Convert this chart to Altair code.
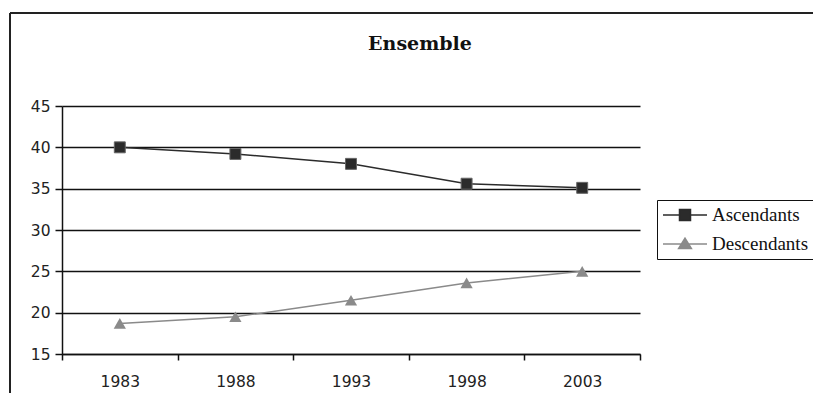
import altair as alt
import pandas as pd

years = ["1983", "1988", "1993", "1998", "2003"]
ascendants = [40.0, 39.2, 38.0, 35.6, 35.1]
descendants = [18.7, 19.5, 21.5, 23.6, 25.0]
series_names = ["Ascendants", "Descendants"]
y_ticks = [15, 20, 25, 30, 35, 40, 45]
title_text = "Ensemble"

rows = []
for y, a, d in zip(years, ascendants, descendants):
    rows.append({"year": y, "value": a, "series": series_names[0]})
    rows.append({"year": y, "value": d, "series": series_names[1]})
df = pd.DataFrame(rows)

W, H = 578, 248
C_ASC = "#2b2b2b"
C_DESC = "#8a8a8a"

x_enc = alt.X(
    "year:O",
    bandPosition=0.5,
    scale=alt.Scale(type="band", paddingInner=0, paddingOuter=0, domain=years),
    axis=alt.Axis(
        title=None, labelAngle=0, tickBand="extent", tickSize=6, grid=False,
        labelPadding=14,
    ),
)
y_enc = alt.Y(
    "value:Q",
    scale=alt.Scale(domain=[15, 45], nice=False, zero=False),
    axis=alt.Axis(
        title=None, values=y_ticks, grid=True, gridColor="#111111", gridWidth=1.5,
        tickSize=7, labelPadding=5,
    ),
)

base = alt.Chart(df)

asc_line = base.transform_filter(alt.datum.series == series_names[0]).mark_line(
    color=C_ASC, strokeWidth=1.5
).encode(x=x_enc, y=y_enc)
asc_pts = base.transform_filter(alt.datum.series == series_names[0]).mark_point(
    shape="square", filled=True, size=120, fill=C_ASC, stroke="#666666",
    strokeWidth=1, opacity=1
).encode(x=x_enc, y=y_enc)
desc_line = base.transform_filter(alt.datum.series == series_names[1]).mark_line(
    color=C_DESC, strokeWidth=1.5
).encode(x=x_enc, y=y_enc)
desc_pts = base.transform_filter(alt.datum.series == series_names[1]).mark_point(
    shape="triangle-up", filled=True, size=150, fill=C_DESC, opacity=1
).encode(x=x_enc, y=y_enc)

path_sq = "M-1,0H-0.25M0.25,0H1M-0.25,-0.25H0.25V0.25H-0.25Z"
path_tri = "M-1,0H1M-0.29,0.2L0.29,0.2L0,-0.26Z"

legend = alt.Legend(
    title=None, orient="none", legendX=595, legendY=94,
    strokeColor="#111111", fillColor="white", padding=5,
    labelFont="Liberation Serif", labelFontSize=19, labelColor="#111111",
    labelOffset=4, symbolSize=1936, symbolStrokeWidth=1.5, clipHeight=20,
    rowPadding=9,
)
legend_layer = base.transform_filter("false").mark_point(
    filled=True, size=1936, opacity=1
).encode(
    x=x_enc, y=y_enc,
    fill=alt.Fill("series:N", scale=alt.Scale(domain=series_names, range=[C_ASC, C_DESC]), legend=legend),
    stroke=alt.Stroke("series:N", scale=alt.Scale(domain=series_names, range=[C_ASC, C_DESC]), legend=legend),
    shape=alt.Shape("series:N", scale=alt.Scale(domain=series_names, range=[path_sq, path_tri]), legend=legend),
)

frame_df = pd.DataFrame({"k": [0]})
top_border = alt.Chart(frame_df).mark_rule(color="#222222", strokeWidth=2).encode(
    x=alt.value(-52), x2=alt.value(760), y=alt.value(-93)
)
left_border = alt.Chart(frame_df).mark_rule(color="#222222", strokeWidth=2).encode(
    x=alt.value(-52), y=alt.value(-93), y2=alt.value(290)
)

chart = alt.layer(
    top_border, left_border, asc_line, desc_line, asc_pts, desc_pts, legend_layer
).properties(
    width=W, height=H,
    title=alt.TitleParams(
        title_text, font="DejaVu Serif", fontSize=19, fontWeight="bold",
        color="#111111", anchor="middle", dx=69, offset=-42,
    ),
    autosize=alt.AutoSizeParams(type="none"),
    padding={"left": 54, "top": 98, "right": 173, "bottom": 39},
).configure_view(stroke=None).configure_axis(
    domainColor="#111111", domainWidth=1.5, tickColor="#111111", tickWidth=1.5,
    labelFont="DejaVu Sans", labelFontSize=15.5, labelColor="#222222",
)

chart.save("out.html", embed_options={"renderer": "svg", "actions": False})
